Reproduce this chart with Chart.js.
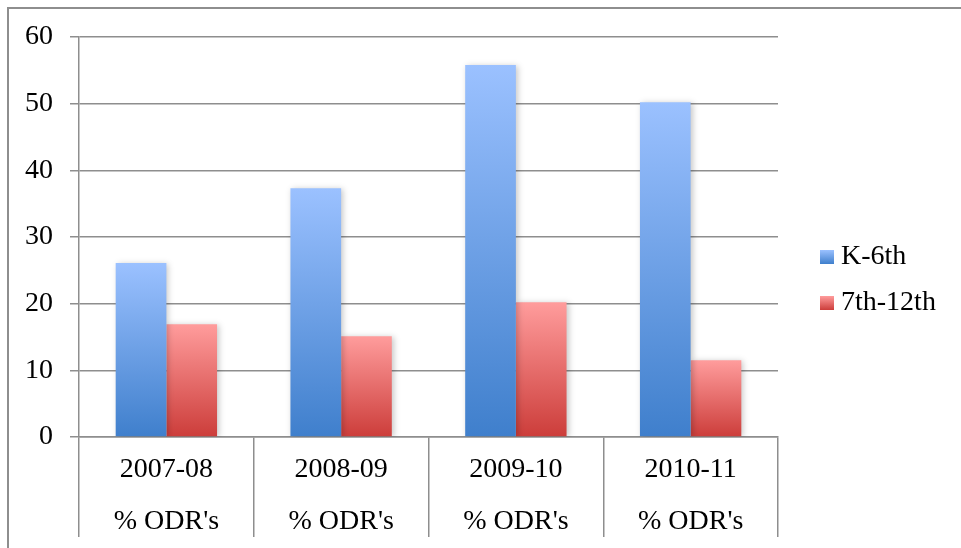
<!DOCTYPE html>
<html>
<head>
<meta charset="utf-8">
<script src="https://cdn.jsdelivr.net/npm/chart.js@4"></script>
<style>
  html, body { margin: 0; padding: 0; background: #fff; }
  #wrap { width: 961px; height: 548px; position: relative; }
</style>
</head>
<body>
<div id="wrap"><canvas id="chart"></canvas></div>
<script>
const categories = [["2007-08", "% ODR's"], ["2008-09", "% ODR's"], ["2009-10", "% ODR's"], ["2010-11", "% ODR's"]];
const seriesNames = ["K-6th", "7th-12th"];
const k6Values = [26.1, 37.3, 55.8, 50.2];
const upperValues = [16.9, 15.1, 20.2, 11.5];
const yTicks = [0, 10, 20, 30, 40, 50, 60];

const GRID = "#8e8e8e";
const FONT = { family: "'Liberation Serif', serif", size: 28 };
const blueStops = ["#9bc1ff", "#3f7fcc"];
const redStops = ["#ff9c9c", "#cc3d3a"];

// vertical gradient per bar, from its top down to the zero line
function barGradient(stops) {
  return (context) => {
    const chart = context.chart;
    const y = chart.scales.y;
    if (!chart.chartArea || !y || context.raw === undefined) return stops[1];
    const top = y.getPixelForValue(context.raw);
    const bottom = y.getPixelForValue(0);
    const g = chart.ctx.createLinearGradient(0, top, 0, bottom);
    g.addColorStop(0, stops[0]);
    g.addColorStop(1, stops[1]);
    return g;
  };
}

const framePlugin = {
  id: "frame",
  beforeDatasetsDraw(chart) {
    const ctx = chart.ctx;
    ctx.save();
    ctx.shadowColor = "rgba(0,0,0,0.22)";
    ctx.shadowBlur = 6;
    ctx.shadowOffsetX = 2;
    ctx.shadowOffsetY = 1;
  },
  afterDatasetsDraw(chart) {
    chart.ctx.restore();
  },
  afterDraw(chart) {
    const ctx = chart.ctx;
    ctx.save();
    // outer frame
    ctx.strokeStyle = GRID;
    ctx.lineWidth = 2;
    ctx.strokeRect(8, 8, 1000, 1000);
    // legend
    const items = [
      { name: seriesNames[0], stops: blueStops, y: 257 },
      { name: seriesNames[1], stops: redStops, y: 303 }
    ];
    ctx.font = FONT.size + "px " + FONT.family;
    ctx.textBaseline = "middle";
    ctx.textAlign = "left";
    items.forEach((it) => {
      const g = ctx.createLinearGradient(0, it.y - 7, 0, it.y + 7);
      g.addColorStop(0, it.stops[0]);
      g.addColorStop(1, it.stops[1]);
      ctx.fillStyle = g;
      ctx.fillRect(820, it.y - 7, 14, 14);
      ctx.fillStyle = "#000";
      ctx.fillText(it.name, 841, it.y);
    });
    ctx.restore();
  }
};

new Chart(document.getElementById("chart"), {
  type: "bar",
  data: {
    labels: categories,
    datasets: [
      {
        label: seriesNames[0],
        data: k6Values,
        backgroundColor: barGradient(blueStops),
        categoryPercentage: 0.58,
        barPercentage: 1.0
      },
      {
        label: seriesNames[1],
        data: upperValues,
        backgroundColor: barGradient(redStops),
        categoryPercentage: 0.58,
        barPercentage: 1.0
      }
    ]
  },
  options: {
    responsive: true,
    maintainAspectRatio: false,
    animation: false,
    layout: { padding: { top: 37, right: 183, left: 0, bottom: 0 } },
    plugins: {
      legend: { display: false },
      tooltip: { enabled: false }
    },
    scales: {
      x: {
        grid: {
          offset: true,
          drawOnChartArea: false,
          drawTicks: true,
          tickLength: 100,
          color: GRID,
          lineWidth: 1.5
        },
        border: { display: true, color: GRID, width: 1.5 },
        ticks: {
          color: "#000",
          font: { ...FONT, lineHeight: 52 / 28 },
          padding: -93,
          maxRotation: 0
        },
        afterFit(scale) { scale.height = 111; }
      },
      y: {
        min: 0,
        max: 60,
        afterBuildTicks(scale) { scale.ticks = yTicks.map((v) => ({ value: v })); },
        grid: {
          color: GRID,
          lineWidth: 1.5,
          drawTicks: true,
          tickLength: 9
        },
        border: { display: true, color: GRID, width: 1.5 },
        ticks: {
          color: "#000",
          font: FONT,
          padding: 17
        },
        afterFit(scale) { scale.width = 79; }
      }
    }
  },
  plugins: [framePlugin]
});
</script>
</body>
</html>
